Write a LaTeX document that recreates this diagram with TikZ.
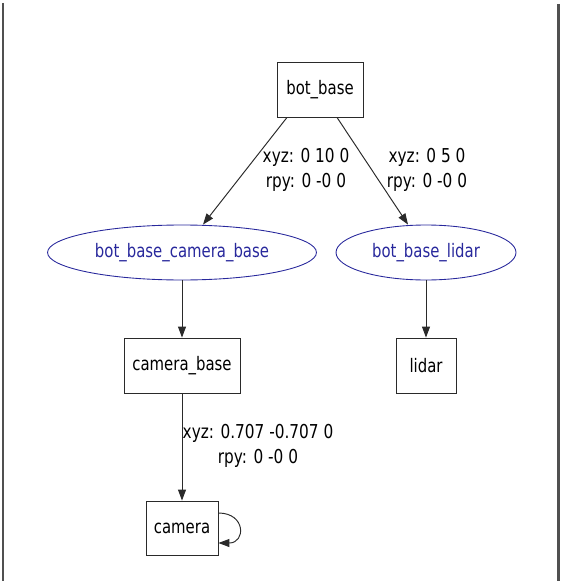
\documentclass[tikz,border=0pt]{standalone}
\usepackage{fontspec}
\setmainfont{DejaVu Sans}[FakeStretch=0.8]
\definecolor{tfblue}{HTML}{28289C}
\definecolor{framegray}{HTML}{505050}
\definecolor{linegray}{HTML}{2A2A2A}
\usepackage{tikz}
\usetikzlibrary{arrows.meta, shapes, positioning, calc}
\newcommand{\joint}[2]
{
	\draw[linegray, line width=0.55pt, -{Triangle[length=0.22cm, width=0.16cm]}] (#1) -- (#2)
}

\begin{document}
\begin{tikzpicture}[x=0.02cm, y=-0.02cm,
	every node/.append style={
		font=\fontsize{10.6}{12.6}\selectfont}]

	\useasboundingbox (0,0) rectangle (563,581);

	% frame edges
	\draw[framegray, line width=0.6pt] (3,3) -- (3,581);
	\draw[framegray, line width=1.7pt] (558,4) -- (558,581);

	\node[draw = linegray, rectangle, line width=0.5pt, minimum width=1.72cm, minimum height=1.1cm] (bb) at (320,89.5) {bot\_base};
	\node[draw = tfblue, text = tfblue, ellipse, line width=0.5pt, minimum width=5.38cm, minimum height=1.1cm] (bbcam) at (182,252.5) {bot\_base\_camera\_base};
	\node[draw = tfblue, text = tfblue, ellipse, line width=0.5pt, minimum width=3.6cm, minimum height=1.1cm] (bblidar) at (426,252.5) {bot\_base\_lidar};
	\node[draw = linegray, rectangle, line width=0.5pt, minimum width=2.32cm, minimum height=1.1cm] (cbase) at (182,365.5) {camera\_base};
	\node[draw = linegray, rectangle, line width=0.5pt, minimum width=1.2cm, minimum height=1.1cm] (lidar) at (426,365.5) {lidar};
	\node[draw = linegray, rectangle, line width=0.5pt, minimum width=1.44cm, minimum height=1.08cm] (cam) at (182,528) {camera};

	\node[align = center, font = \fontsize{10.9}{14.2}\selectfont] (lbl1) at (306,170) {xyz: 0 10 0\\rpy: 0 -0 0};
	\node[align = center, font = \fontsize{10.9}{14.2}\selectfont] (lbl2) at (427,170) {xyz: 0 5 0\\rpy: 0 -0 0};
	\node[align = center, font = \fontsize{10.9}{14.2}\selectfont] (lbl3) at (258,445.5) {xyz: 0.707 -0.707 0\\rpy: 0 -0 0};

	\joint{[xshift=-0.66cm]bb.south}{[xshift=0.42cm]bbcam.north};
	\joint{[xshift=0.34cm]bb.south}{[xshift=-0.36cm]bblidar.north};
	\joint{bbcam.south}{cbase.north};
	\joint{bblidar.south}{lidar.north};
	\joint{cbase.south}{cam.north};

	\draw[linegray, line width=0.55pt, -{Triangle[length=0.22cm, width=0.16cm]}] ([yshift=0.3cm]cam.east) .. controls +(0.55cm,0) and +(0.55cm,0) .. ([yshift=-0.3cm]cam.east);
\end{tikzpicture}
\end{document}
